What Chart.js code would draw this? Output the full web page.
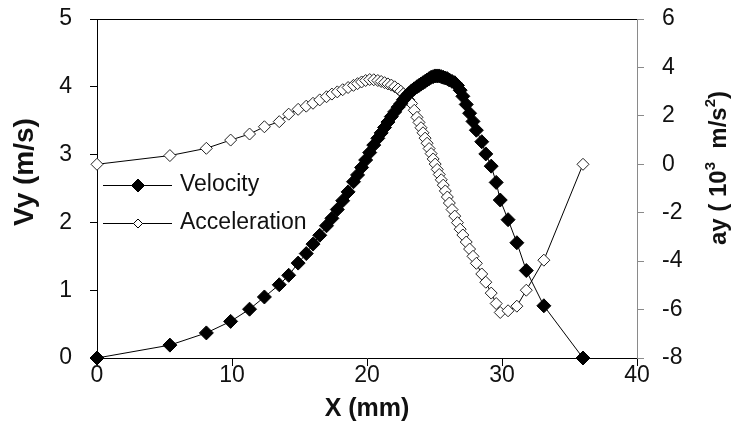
<!DOCTYPE html>
<html>
<head>
<meta charset="utf-8">
<script src="https://cdn.jsdelivr.net/npm/chart.js@4.4.1/dist/chart.umd.min.js"></script>
<style>
  html, body { margin: 0; padding: 0; background: #fff; }
</style>
</head>
<body>
<canvas id="chart" width="732" height="446"></canvas>
<script>
// X position (mm), shared by both series
const xPos = [0, 5.4, 8.1, 9.9, 11.3, 12.4, 13.5, 14.2, 14.9, 15.5,
  16.0, 16.5, 17.0, 17.4, 17.8, 18.2, 18.6, 19.0, 19.3, 19.6,
  19.9, 20.2, 20.5, 20.8, 21.05, 21.3, 21.55, 21.8, 22.05, 22.3,
  22.5, 22.7, 22.9, 23.1, 23.3, 23.5, 23.7, 23.85, 24.0, 24.15,
  24.3, 24.45, 24.6, 24.75, 24.9, 25.05, 25.2, 25.35, 25.5, 25.65,
  25.8, 25.95, 26.1, 26.3, 26.5, 26.7, 26.9, 27.1, 27.35, 27.6,
  27.85, 28.1, 28.5, 28.8, 29.2, 29.57, 29.87, 30.45, 31.1, 31.8,
  33.1, 36.0];

// Vy (m/s)
const velocity = [0, 0.19, 0.37, 0.54, 0.72, 0.90, 1.08, 1.22, 1.40, 1.54,
  1.68, 1.81, 1.95, 2.06, 2.19, 2.32, 2.45, 2.60, 2.70, 2.81,
  2.92, 3.03, 3.14, 3.24, 3.32, 3.40, 3.48, 3.56, 3.63, 3.70,
  3.75, 3.81, 3.86, 3.90, 3.94, 3.97, 4.00, 4.02, 4.04, 4.06,
  4.08, 4.10, 4.12, 4.14, 4.15, 4.16, 4.16, 4.16, 4.15, 4.14,
  4.13, 4.12, 4.10, 4.08, 4.06, 4.02, 3.95, 3.86, 3.74, 3.61,
  3.49, 3.36, 3.19, 3.01, 2.83, 2.59, 2.33, 2.04, 1.70, 1.29,
  0.77, 0];

// ay (10^3 m/s^2)
const acceleration = [0, 0.36, 0.66, 1.00, 1.25, 1.55, 1.76, 2.07, 2.27, 2.40,
  2.52, 2.66, 2.79, 2.90, 2.99, 3.08, 3.17, 3.26, 3.33, 3.40,
  3.46, 3.50, 3.49, 3.46, 3.42, 3.37, 3.32, 3.27, 3.20, 3.11,
  3.02, 2.91, 2.79, 2.66, 2.51, 2.23, 1.94, 1.73, 1.51, 1.30,
  1.08, 0.87, 0.65, 0.44, 0.22, 0.01, -0.21, -0.42, -0.64, -0.86,
  -1.10, -1.35, -1.60, -1.87, -2.14, -2.41, -2.68, -2.92, -3.21, -3.50,
  -3.80, -4.09, -4.53, -4.87, -5.32, -5.75, -6.12, -6.05, -5.86, -5.20,
  -3.96, 0];

const xTicks = [0, 10, 20, 30, 40];
const vTicks = [0, 1, 2, 3, 4, 5];
const aTicks = [-8, -6, -4, -2, 0, 2, 4, 6];

const FONT = "'Liberation Sans', Arial, sans-serif";

const pairs = (ys) => xPos.map((x, i) => ({ x: x, y: ys[i] }));

// keep the plot box where the reference has it
const fixVertical = (w) => s => { s.width = w; s.paddingTop = 0; s.paddingBottom = 0; };

// titles, legend and the top frame line
const extras = {
  id: 'extras',
  afterDraw(chart) {
    const ctx = chart.ctx;
    const a = chart.chartArea;
    ctx.save();

    ctx.strokeStyle = '#000';
    ctx.lineWidth = 1;
    ctx.beginPath();
    ctx.moveTo(a.left, Math.round(a.top) + 0.5);
    ctx.lineTo(a.right, Math.round(a.top) + 0.5);
    ctx.stroke();

    // legend
    const rows = [
      { label: 'Velocity', y: 185, fill: '#000', r: 6.5 },
      { label: 'Acceleration', y: 223, fill: '#fff', r: 4.5 }
    ];
    rows.forEach(row => {
      ctx.strokeStyle = '#000';
      ctx.lineWidth = 1;
      ctx.beginPath();
      ctx.moveTo(103, row.y + 0.5);
      ctx.lineTo(172, row.y + 0.5);
      ctx.stroke();
      ctx.fillStyle = row.fill;
      Chart.helpers.drawPoint(ctx, {
        pointStyle: 'rectRot', radius: row.r, rotation: 0, borderWidth: 1
      }, 138, row.y + 0.5);
      ctx.fillStyle = '#111';
      ctx.font = '23px ' + FONT;
      ctx.textAlign = 'left';
      ctx.textBaseline = 'middle';
      ctx.fillText(row.label, 180, row.y);
    });

    // axis titles
    ctx.fillStyle = '#111';
    ctx.font = 'bold 25px ' + FONT;
    ctx.textAlign = 'center';
    ctx.textBaseline = 'middle';
    ctx.fillText('X (mm)', 367, 409);

    ctx.save();
    ctx.translate(25, 172);
    ctx.rotate(-Math.PI / 2);
    ctx.font = 'bold 28px ' + FONT;
    ctx.fillText('Vy (m/s)', 0, 0);
    ctx.restore();

    ctx.save();
    ctx.translate(719, 168);
    ctx.rotate(-Math.PI / 2);
    const parts = [
      ['ay ( 10', 24, 0], ['3', 15, -8], ['  m/s', 24, 0], ['2', 15, -8], [')', 24, 0]
    ];
    let total = 0;
    parts.forEach(p => {
      ctx.font = 'bold ' + p[1] + 'px ' + FONT;
      p.push(ctx.measureText(p[0]).width);
      total += p[3];
    });
    let cx = -total / 2;
    ctx.textAlign = 'left';
    parts.forEach(p => {
      ctx.font = 'bold ' + p[1] + 'px ' + FONT;
      ctx.fillText(p[0], cx, p[2]);
      cx += p[3];
    });
    ctx.restore();

    ctx.restore();
  }
};

const tickFont = { family: FONT, size: 23, lineHeight: 1 };

new Chart(document.getElementById('chart'), {
  type: 'line',
  data: {
    datasets: [{
      label: 'Velocity',
      data: pairs(velocity),
      yAxisID: 'y',
      borderColor: '#000',
      borderWidth: 1,
      pointStyle: 'rectRot',
      pointRadius: 7,
      pointBackgroundColor: '#000',
      pointBorderColor: '#000',
      pointBorderWidth: 1,
      tension: 0,
      clip: false
    }, {
      label: 'Acceleration',
      data: pairs(acceleration),
      yAxisID: 'y1',
      borderColor: '#000',
      borderWidth: 1,
      pointStyle: 'rectRot',
      pointRadius: 6,
      pointBackgroundColor: '#fff',
      pointBorderColor: '#222',
      pointBorderWidth: 1,
      tension: 0,
      clip: false
    }]
  },
  options: {
    responsive: false,
    animation: false,
    events: [],
    layout: { padding: { top: 19, left: 0, right: 0, bottom: 0 } },
    plugins: { legend: { display: false }, tooltip: { enabled: false } },
    scales: {
      x: {
        type: 'linear',
        min: 0, max: 40,
        afterBuildTicks: s => { s.ticks = xTicks.map(v => ({ value: v })); },
        afterFit: s => { s.height = 88; s.paddingLeft = 0; s.paddingRight = 0; },
        border: { color: '#000', width: 1 },
        grid: { drawOnChartArea: false, drawTicks: true, tickLength: 8, color: '#000' },
        ticks: { font: tickFont, color: '#111', padding: -2, maxRotation: 0 }
      },
      y: {
        position: 'left',
        min: 0, max: 5,
        afterBuildTicks: s => { s.ticks = vTicks.map(v => ({ value: v })); },
        afterFit: fixVertical(97),
        border: { color: '#000', width: 1 },
        grid: { drawOnChartArea: false, drawTicks: true, tickLength: 7, color: '#000' },
        ticks: { font: tickFont, color: '#111', padding: 18 }
      },
      y1: {
        position: 'right',
        min: -8, max: 6,
        afterBuildTicks: s => { s.ticks = aTicks.map(v => ({ value: v })); },
        afterFit: fixVertical(95),
        border: { color: '#8a8a8a', width: 1 },
        grid: { drawOnChartArea: false, drawTicks: true, tickLength: 7, color: '#8a8a8a' },
        ticks: { font: tickFont, color: '#111', padding: 18 }
      }
    }
  },
  plugins: [extras]
});
</script>
</body>
</html>
